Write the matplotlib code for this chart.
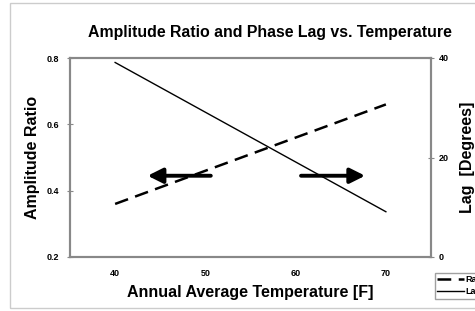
import matplotlib
matplotlib.use("Agg")
import matplotlib.pyplot as plt
from matplotlib.patches import Rectangle

# Dane
temps = [40, 50, 60, 70]
ratio = [0.36, 0.46, 0.56, 0.66]
lag = [39.1, 29.1, 19.1, 9.1]

# strzałki wskazujące oś (od, do) w jednostkach osi X, wysokość w jednostkach osi lewej
arrow_left = (50.6, 43.6)
arrow_right = (60.6, 67.7)
arrow_y = 0.445

plt.rcParams['font.family'] = ['Liberation Sans', 'DejaVu Sans']
plt.rcParams['font.weight'] = 'bold'

fig = plt.figure(figsize=(4.75, 3.11), dpi=100)
ax = fig.add_axes([70 / 475, 1 - 257 / 311, 361 / 475, 199 / 311])
ax2 = ax.twinx()

# Linie
ln1, = ax.plot(temps, ratio, color='black', lw=1.8, dashes=(5.5, 3), label='Ratio')
ln2, = ax2.plot(temps, lag, color='black', lw=1.0, label='Lag')

ax.set_xlim(35, 75)
ax.set_ylim(0.2, 0.8)
ax2.set_ylim(0, 40)
ax.set_xticks([40, 50, 60, 70])
ax.set_yticks([0.2, 0.4, 0.6, 0.8])
ax2.set_yticks([0, 20, 40])

for a in (ax, ax2):
    for s in a.spines.values():
        s.set_color('#888888')
        s.set_linewidth(1.5)
ax.tick_params(axis='x', length=0, labelsize=6.5, pad=9)
ax.tick_params(axis='y', direction='inout', length=5, color='#888888', labelsize=6.5, pad=5)
ax2.tick_params(axis='y', direction='inout', length=5, color='#888888', labelsize=6.5, pad=3)

ax.set_xlabel('Annual Average Temperature [F]', fontsize=11.5, fontweight='bold', labelpad=5)
ax.set_ylabel('Amplitude Ratio', fontsize=11.5, fontweight='bold', labelpad=5)
ax2.set_ylabel('Lag  [Degrees]', fontsize=11.5, fontweight='bold', labelpad=8)
ax.set_title('Amplitude Ratio and Phase Lag vs. Temperature', fontsize=11.4,
             fontweight='bold', pad=15, x=0.553)

# Strzałki
for x0, x1 in (arrow_left, arrow_right):
    ax.annotate('', xy=(x1, arrow_y), xytext=(x0, arrow_y),
                arrowprops=dict(arrowstyle='-|>,head_length=0.9,head_width=0.45',
                                lw=2.8, color='black', shrinkA=0, shrinkB=0))

# Legenda (ucięta przy prawej krawędzi, jak w oryginale)
fig.legend(handles=[ln1, ln2], loc='upper left', bbox_to_anchor=(430 / 475, 1 - 268 / 311),
           fontsize=6.5, handlelength=3.0, handletextpad=0.1, borderpad=0.3,
           labelspacing=0.3, frameon=True, fancybox=False, edgecolor='#888888')

# Ramka wokół obrazka
fig.add_artist(Rectangle((10 / 475, 3 / 311), 1, 1 - 6 / 311, transform=fig.transFigure,
                         fill=False, edgecolor='#cccccc', lw=1))

fig.savefig('out.png', dpi=100)
